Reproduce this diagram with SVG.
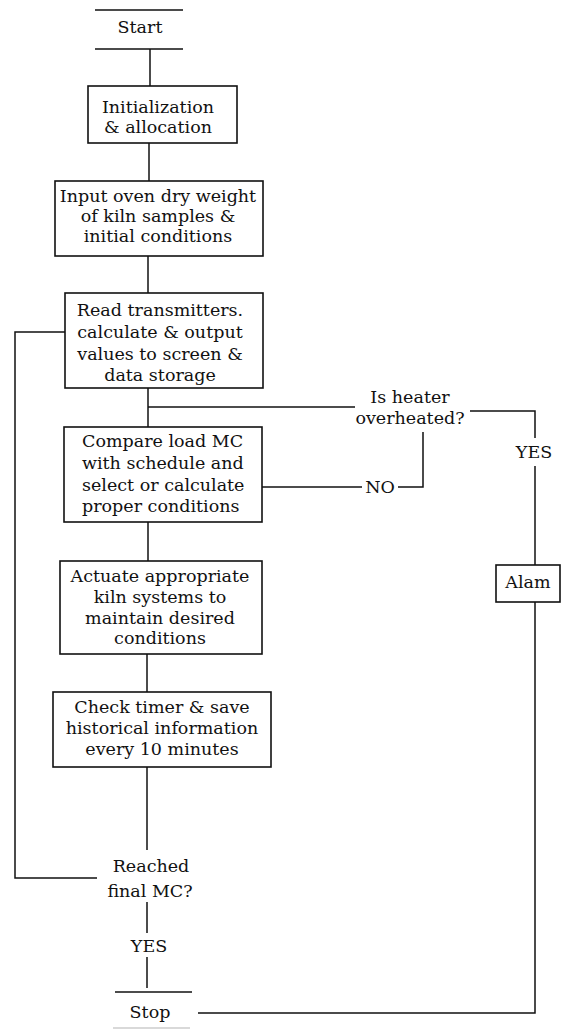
<svg xmlns="http://www.w3.org/2000/svg" width="569" height="1030" viewBox="0 0 569 1030">
<style>
.t{font-family:"DejaVu Serif","Liberation Serif",serif;font-size:17.5px;fill:#111;text-anchor:middle}
.l{text-anchor:start}
.b{fill:#fff;stroke:#111;stroke-width:1.6}
.c{fill:none;stroke:#111;stroke-width:1.5}
</style>
<rect width="569" height="1030" fill="#fff"/>
<g id="connectors">
<path class="c" d="M150 49V86"/>
<path class="c" d="M149 143V181"/>
<path class="c" d="M148 256V293"/>
<path class="c" d="M148 388V427"/>
<path class="c" d="M148 522V561"/>
<path class="c" d="M147 654V692"/>
<path class="c" d="M147 767V850"/>
<path class="c" d="M65 332H15V878H97"/>
<path class="c" d="M148 407H355"/>
<path class="c" d="M470 411H535V438"/>
<path class="c" d="M535 466V565"/>
<path class="c" d="M535 602V1013H198"/>
<path class="c" d="M423 432V487H398"/>
<path class="c" d="M362 487H262"/>
<path class="c" d="M147 902V933"/>
<path class="c" d="M147 957V988"/>
</g>
<g id="start">
<path class="c" d="M95 10H183M95 49H183"/>
<text class="t" x="140" y="33">Start</text>
</g>
<g id="init">
<rect class="b" x="88" y="86" width="149" height="57"/>
<text class="t" x="158" y="113">Initialization</text>
<text class="t" x="158" y="133">&amp; allocation</text>
</g>
<g id="input">
<rect class="b" x="55" y="181" width="208" height="75"/>
<text class="t" x="158" y="202">Input oven dry weight</text>
<text class="t" x="158" y="222">of kiln samples &amp;</text>
<text class="t" x="158" y="242">initial conditions</text>
</g>
<g id="read">
<rect class="b" x="65" y="293" width="198" height="95"/>
<text class="t" x="160" y="316">Read transmitters.</text>
<text class="t" x="160" y="338">calculate &amp; output</text>
<text class="t" x="160" y="360">values to screen &amp;</text>
<text class="t" x="160" y="381">data storage</text>
</g>
<g id="heater">
<text class="t" x="410" y="403">Is heater</text>
<text class="t" x="410" y="424">overheated?</text>
</g>
<g id="no">
<text class="t" x="380" y="493">NO</text>
</g>
<g id="compare">
<rect class="b" x="64" y="427" width="198" height="95"/>
<text class="t l" x="82" y="447">Compare load MC</text>
<text class="t l" x="82" y="469">with schedule and</text>
<text class="t l" x="82" y="491">select or calculate</text>
<text class="t l" x="82" y="512">proper conditions</text>
</g>
<g id="actuate">
<rect class="b" x="60" y="561" width="202" height="93"/>
<text class="t" x="160" y="582">Actuate appropriate</text>
<text class="t" x="160" y="603">kiln systems to</text>
<text class="t" x="160" y="624">maintain desired</text>
<text class="t" x="160" y="644">conditions</text>
</g>
<g id="check">
<rect class="b" x="53" y="692" width="218" height="75"/>
<text class="t" x="162" y="713">Check timer &amp; save</text>
<text class="t" x="162" y="734">historical information</text>
<text class="t" x="162" y="755">every 10 minutes</text>
</g>
<g id="reached">
<text class="t" x="151" y="872">Reached</text>
<text class="t" x="150" y="897">final MC?</text>
</g>
<g id="yes1">
<text class="t" x="149" y="952">YES</text>
</g>
<g id="yes2">
<text class="t" x="534" y="458">YES</text>
</g>
<g id="alarm">
<rect class="b" x="496" y="565" width="64" height="37"/>
<text class="t" x="528" y="588">Alam</text>
</g>
<g id="stop">
<path class="c" d="M115 992H192"/>
<path d="M113 1028H190" fill="none" stroke="#ccc" stroke-width="1.5"/>
<text class="t" x="150" y="1018">Stop</text>
</g>
</svg>
